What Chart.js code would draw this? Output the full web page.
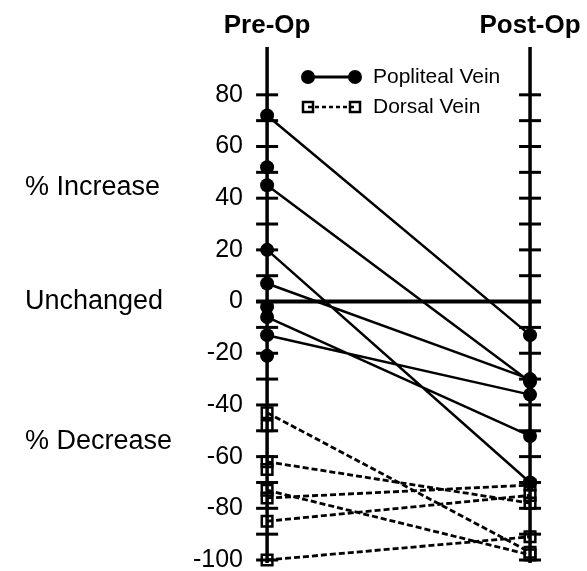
<!DOCTYPE html>
<html>
<head>
<meta charset="utf-8">
<script src="https://cdn.jsdelivr.net/npm/chart.js@4"></script>
<style>
  html, body { margin: 0; padding: 0; background: #fff; }
  #wrap { width: 587px; height: 571px; }
</style>
</head>
<body>
<div id="wrap"><canvas id="veinChart"></canvas></div>
<script>
const phases = ['Pre-Op', 'Post-Op']
const zoneLabels = ['% Decrease', 'Unchanged', '% Increase']
const zoneValues = [-54, 0, 44]

// popliteal vein: paired pre/post values, plus pre values without a post line
const poplitealPre = [72, 45, 20, 7, -6, -13]
const poplitealPost = [-13, -31, -70, -30, -52, -36]
const poplitealPreOnly = [52, -2, -21]

// dorsal vein
const dorsalPre = [-43, -62, -73, -76, -85, -100]
const dorsalPost = [-97, -78, -98, -71, -75, -91]
const dorsalPreOnly = [-48, -65]

Chart.defaults.font.family = '"Liberation Sans", Arial, sans-serif'
Chart.defaults.color = '#000'

// pre at x=0, post at x=1, null y breaks the line between pairs
const pairPoints = (pre, post, preOnly) => {
  const pts = []
  pre.forEach((v, i) => {
    pts.push({ x: 0, y: v }, { x: 1, y: post[i] }, { x: 0.5, y: null })
  })
  preOnly.forEach(v => pts.push({ x: 0, y: v }, { x: 0.5, y: null }))
  return pts
}

const fitWidth = w => scale => {
  scale.width = w
  scale.paddingTop = 0
  scale.paddingBottom = 0
}

const axesPlugin = {
  id: 'phaseAxes',
  beforeDatasetsDraw(chart) {
    const ctx = chart.ctx
    const xs = chart.scales.x
    const ys = chart.scales.y
    const area = chart.chartArea
    ctx.save()
    ctx.strokeStyle = '#000'
    phases.forEach((p, i) => {
      const px = xs.getPixelForValue(i)
      ctx.lineWidth = 3.5
      ctx.beginPath()
      ctx.moveTo(px, area.top)
      ctx.lineTo(px, area.bottom + 3)
      ctx.stroke()
      ctx.lineWidth = 3
      ys.ticks.forEach(t => {
        if (t.value % 10 !== 0) return
        const py = ys.getPixelForValue(t.value)
        ctx.beginPath()
        ctx.moveTo(px - 11, py)
        ctx.lineTo(px + 11, py)
        ctx.stroke()
      })
    })
    // unchanged line
    const y0 = ys.getPixelForValue(0)
    ctx.lineWidth = 4
    ctx.beginPath()
    ctx.moveTo(xs.getPixelForValue(0) - 11, y0)
    ctx.lineTo(xs.getPixelForValue(1) + 11, y0)
    ctx.stroke()
    ctx.restore()
  },
  afterDraw(chart) {
    // legend
    const ctx = chart.ctx
    ctx.save()
    ctx.strokeStyle = '#000'
    ctx.fillStyle = '#000'
    ctx.lineWidth = 3
    ctx.beginPath()
    ctx.moveTo(308, 77)
    ctx.lineTo(355, 77)
    ctx.stroke()
    ;[308, 355].forEach(cx => {
      ctx.beginPath()
      ctx.arc(cx, 77, 7, 0, Math.PI * 2)
      ctx.fill()
    })
    ctx.lineWidth = 2.5
    ctx.setLineDash([4, 3])
    ctx.beginPath()
    ctx.moveTo(308, 107)
    ctx.lineTo(355, 107)
    ctx.stroke()
    ctx.setLineDash([])
    ctx.lineWidth = 2.5
    ;[308, 355].forEach(cx => {
      ctx.strokeRect(cx - 5, 102, 10, 10)
    })
    ctx.font = '21px "Liberation Sans", Arial, sans-serif'
    ctx.textBaseline = 'middle'
    ctx.fillText('Popliteal Vein', 373, 77)
    ctx.fillText('Dorsal Vein', 373, 107)
    ctx.restore()
  }
}

new Chart(document.getElementById('veinChart'), {
  type: 'line',
  data: {
    datasets: [
      {
        label: 'Popliteal Vein',
        data: pairPoints(poplitealPre, poplitealPost, poplitealPreOnly),
        borderColor: '#000',
        borderWidth: 2.5,
        pointStyle: 'circle',
        pointRadius: 7,
        pointBackgroundColor: '#000',
        pointBorderWidth: 0,
        spanGaps: false,
        clip: false
      },
      {
        label: 'Dorsal Vein',
        data: pairPoints(dorsalPre, dorsalPost, dorsalPreOnly),
        borderColor: '#000',
        borderWidth: 2.8,
        borderDash: [6, 3],
        pointStyle: 'rect',
        pointRadius: 7.5,
        pointBackgroundColor: 'rgba(0,0,0,0)',
        pointBorderColor: '#000',
        pointBorderWidth: 2.5,
        spanGaps: false,
        clip: false
      }
    ]
  },
  options: {
    responsive: true,
    maintainAspectRatio: false,
    animation: false,
    layout: { padding: { left: 25, right: 12, top: 0, bottom: 11 } },
    plugins: { legend: { display: false }, tooltip: { enabled: false } },
    scales: {
      x: {
        type: 'linear',
        position: 'top',
        min: -0.046,
        max: 1.171,
        grid: { display: false, drawTicks: false },
        border: { display: false },
        afterBuildTicks: scale => { scale.ticks = phases.map((p, i) => ({ value: i })) },
        afterFit: scale => { scale.height = 47; scale.paddingLeft = 0; scale.paddingRight = 0 },
        ticks: {
          padding: 6,
          maxRotation: 0,
          autoSkip: false,
          font: { size: 26, weight: 'bold' },
          callback: (v, i) => phases[i]
        }
      },
      y: {
        min: -100,
        max: 98.5,
        weight: 0,
        grid: { display: false, drawTicks: false },
        border: { display: false },
        afterFit: fitWidth(80),
        ticks: {
          stepSize: 10,
          padding: 12,
          autoSkip: false,
          font: { size: 25 },
          callback: v => (v % 20 === 0 ? v : '')
        }
      },
      yText: {
        min: -100,
        max: 98.5,
        position: 'left',
        weight: 1,
        grid: { display: false, drawTicks: false },
        border: { display: false },
        afterBuildTicks: scale => { scale.ticks = zoneValues.map(v => ({ value: v })) },
        afterFit: fitWidth(150),
        ticks: {
          crossAlign: 'far',
          padding: 0,
          autoSkip: false,
          font: { size: 27 },
          callback: (v, i) => zoneLabels[i]
        }
      }
    }
  },
  plugins: [axesPlugin]
})
</script>
</body>
</html>
